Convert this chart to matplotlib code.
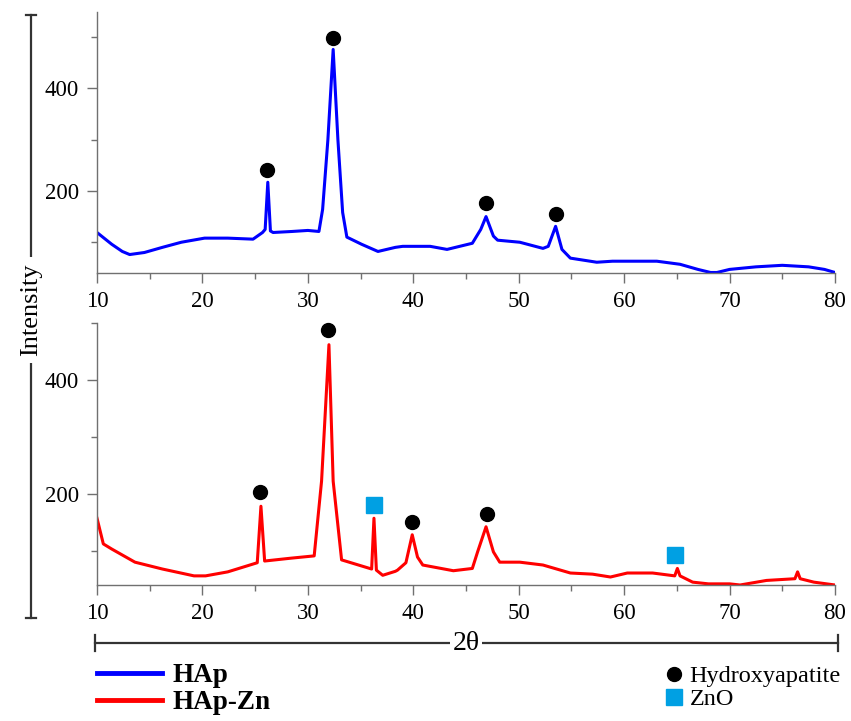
import matplotlib
matplotlib.use("Agg")
import matplotlib.pyplot as plt
from matplotlib.lines import Line2D
from matplotlib.ticker import MultipleLocator

plt.rcParams['font.family'] = ['Liberation Serif', 'DejaVu Serif']

# ---- data ----
hap_2theta = [10, 11.4, 12.4, 13.1, 14.5, 16.2, 18, 20.2, 22.4, 24.8, 25.7, 25.95, 26.2, 26.45,
              26.7, 28.5, 30.0, 31.05, 31.4, 31.9, 32.4, 32.85, 33.3, 33.7, 35.1, 36.65, 38.3,
              39.0, 41.6, 43.2, 45.6, 46.4, 46.9, 47.6, 48.0, 50.1, 52.3, 52.8, 53.5, 54.1, 54.9,
              57.4, 58.9, 60.8, 63.1, 65.3, 67.0, 68.2, 68.8, 70.0, 72.5, 75.0, 77.5, 79.0, 80]
hap_int = [119, 96, 82, 76, 80, 90, 100, 108, 108, 106, 119, 125, 217, 122,
           119, 121, 123, 121, 164, 300, 476, 300, 158, 110, 96, 82, 90,
           92, 92, 86, 98, 125, 150, 112, 104, 100, 88, 92, 131, 86, 69,
           61, 63, 63, 63, 57, 47, 41, 41, 47, 52, 55, 52, 47, 41]

hapzn_2theta = [10, 10.6, 11.4, 13.6, 16.2, 19.2, 20.3, 22.4, 25.2, 25.55, 25.9, 28.4, 30.6,
                31.3, 32.0, 32.4, 33.2, 36.05, 36.27, 36.5, 37.1, 38.3, 38.5, 39.3, 39.9, 40.4,
                40.9, 43.8, 45.6, 46.1, 46.9, 47.6, 48.2, 50.1, 52.3, 54.9, 57.0, 58.7, 60.3,
                62.7, 64.8, 65.05, 65.3, 66.5, 68.0, 70.0, 71.0, 73.5, 76.2, 76.45, 76.7, 78.0, 80]
hapzn_int = [158, 113, 104, 81, 69, 57, 57, 64, 80, 179, 83, 88, 92,
             223, 462, 223, 85, 69, 158, 67, 58, 65, 67, 80, 129, 90,
             76, 66, 70, 99, 143, 99, 81, 81, 76, 62, 60, 55, 62,
             62, 57, 70, 57, 46, 43, 43, 41, 49, 52, 64, 52, 46, 41]

hap_hydroxy_x = [26.1, 32.4, 46.9, 53.5]
hap_hydroxy_y = [240, 499, 176, 156]
hapzn_hydroxy_x = [25.5, 31.9, 39.9, 47.0]
hapzn_hydroxy_y = [204, 487, 152, 165]
hapzn_zno_x = [36.3, 64.8]
hapzn_zno_y = [181, 94]

x_ticks = [10, 20, 30, 40, 50, 60, 70, 80]
y_ticks = [200, 400]

BLUE = '#0000FF'
RED = '#FF0000'
CYAN = '#00A0E3'
SPINE = '#707070'

W, H = 851, 721
fig = plt.figure(figsize=(W / 100, H / 100), dpi=100)


def px_box(x0, y0, x1, y1):
    return [x0 / W, 1 - y1 / H, (x1 - x0) / W, (y1 - y0) / H]


ax1 = fig.add_axes(px_box(97, 12, 835, 273))
ax2 = fig.add_axes(px_box(97, 323, 835, 585))

for ax, ylim in ((ax1, (40, 549)), (ax2, (41, 500))):
    ax.set_xlim(10, 80)
    ax.set_ylim(*ylim)
    for s in ('top', 'right'):
        ax.spines[s].set_visible(False)
    for s in ('left', 'bottom'):
        ax.spines[s].set_color(SPINE)
        ax.spines[s].set_linewidth(1.0)
    ax.set_xticks(x_ticks)
    ax.set_yticks(y_ticks)
    ax.xaxis.set_minor_locator(MultipleLocator(5))
    ax.yaxis.set_minor_locator(MultipleLocator(100))
    ax.tick_params(which='major', direction='out', length=7, width=1, color=SPINE,
                   labelsize=16.5, labelcolor='black', pad=6)
    ax.tick_params(which='minor', direction='out', length=4, width=1, color=SPINE)
    ax.set_facecolor('none')

ax1.plot(hap_2theta, hap_int, color=BLUE, lw=2.2, solid_joinstyle='round')
ax1.plot(hap_hydroxy_x, hap_hydroxy_y, 'o', color='black', ms=10, clip_on=False)

ax2.plot(hapzn_2theta, hapzn_int, color=RED, lw=2.2, solid_joinstyle='round')
ax2.plot(hapzn_hydroxy_x, hapzn_hydroxy_y, 'o', color='black', ms=10, clip_on=False)
ax2.plot(hapzn_zno_x, hapzn_zno_y, 's', color=CYAN, ms=11.5, clip_on=False)

# overlay for dimension-style axis titles
ov = fig.add_axes([0, 0, 1, 1])
ov.set_xlim(0, W)
ov.set_ylim(H, 0)
ov.axis('off')
ov.set_zorder(-1)

lc = '#333333'
# Intensity vertical dimension line
ov.plot([31, 31], [15, 618], color=lc, lw=1.6)
ov.plot([26, 36], [15, 15], color=lc, lw=1.6)
ov.plot([26, 36], [618, 618], color=lc, lw=1.6)
ov.text(31, 310, 'Intensity', rotation=90, ha='center', va='center', fontsize=19,
        bbox=dict(facecolor='white', edgecolor='none', pad=5))
# 2theta horizontal dimension line
ov.plot([95, 838], [643, 643], color=lc, lw=1.6)
ov.plot([95, 95], [635, 651], color=lc, lw=1.6)
ov.plot([838, 838], [635, 651], color=lc, lw=1.6)
ov.text(466, 643, '2θ', ha='center', va='center', fontsize=20,
        bbox=dict(facecolor='white', edgecolor='none', pad=2))

# legends
h1 = [Line2D([], [], color=BLUE, lw=3.5, label='HAp'),
      Line2D([], [], color=RED, lw=3.5, label='HAp-Zn')]
fig.legend(handles=h1, loc='upper left', bbox_to_anchor=(97 / W, 1 - 663 / H),
           frameon=False, prop=dict(family='Liberation Serif', weight='bold', size=19.5),
           handlelength=2.4, handletextpad=0.4, labelspacing=0.08, borderaxespad=0,
           borderpad=0)

h2 = [Line2D([], [], ls='none', marker='o', color='black', ms=10, label='Hydroxyapatite'),
      Line2D([], [], ls='none', marker='s', color=CYAN, ms=11.5, label='ZnO')]
fig.legend(handles=h2, loc='upper left', bbox_to_anchor=(664 / W, 1 - 665 / H),
           frameon=False, prop=dict(family='Liberation Serif', size=17.5),
           handlelength=0.8, handletextpad=0.25, labelspacing=0.05, borderaxespad=0,
           borderpad=0)

fig.savefig('out.png', dpi=100, facecolor='white')
